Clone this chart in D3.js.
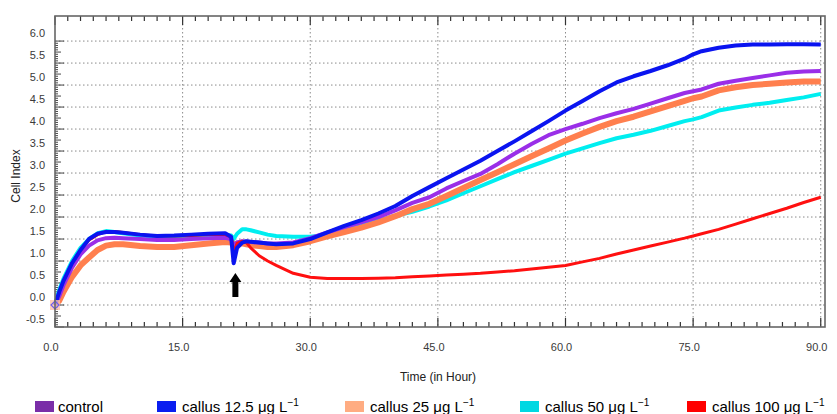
<!DOCTYPE html>
<html>
<head>
<meta charset="utf-8">
<script src="https://cdn.jsdelivr.net/npm/d3@7"></script>
<style>
	body { margin: 0; background: #fff; }
	svg { display: block; }
	.tick-label { font-family: 'Liberation Sans Narrow', 'Liberation Sans', Arial, sans-serif; font-size: 11px; fill: #3a3a3a; }
	.axis-title { font-family: 'Liberation Sans Narrow', 'Liberation Sans', Arial, sans-serif; font-size: 12px; fill: #222; }
	.legend-text { font-family: 'Liberation Sans', Arial, sans-serif; font-size: 15px; fill: #000; }
</style>
</head>
<body>
<script>
// time points (hours) shared by all series
var hours = [0, 0.5, 1, 2, 3, 4, 5, 6, 7, 8, 10, 12, 14, 16, 18, 20, 20.7, 21, 21.4, 22, 22.5, 23, 24, 25, 26, 28, 30, 32, 34, 36, 38, 40, 42, 44, 46, 48, 50, 52, 54, 56, 58, 60, 62, 64, 66, 68, 70, 72, 74, 75, 76, 78, 80, 82, 84, 86, 88, 90];

// cell index
var controlCI = [0, 0.2, 0.45, 0.85, 1.15, 1.35, 1.47, 1.52, 1.53, 1.52, 1.5, 1.48, 1.48, 1.5, 1.52, 1.53, 1.5, 1.35, 1.42, 1.45, 1.44, 1.43, 1.42, 1.4, 1.4, 1.42, 1.52, 1.65, 1.77, 1.88, 2.0, 2.15, 2.32, 2.45, 2.65, 2.82, 2.98, 3.2, 3.44, 3.66, 3.86, 4.0, 4.12, 4.25, 4.36, 4.46, 4.58, 4.7, 4.82, 4.86, 4.9, 5.03, 5.1, 5.16, 5.22, 5.28, 5.31, 5.32];
var callus12CI = [0, 0.3, 0.55, 0.95, 1.25, 1.5, 1.62, 1.66, 1.66, 1.64, 1.6, 1.57, 1.58, 1.6, 1.62, 1.63, 1.55, 0.95, 1.3, 1.42, 1.45, 1.44, 1.42, 1.4, 1.38, 1.4, 1.5, 1.65, 1.8, 1.93, 2.08, 2.25, 2.48, 2.68, 2.88, 3.08, 3.28, 3.5, 3.72, 3.95, 4.18, 4.42, 4.64, 4.86, 5.06, 5.2, 5.32, 5.45, 5.6, 5.7, 5.77, 5.85, 5.9, 5.92, 5.92, 5.93, 5.93, 5.92];
var callus25CI = [0, 0.1, 0.3, 0.64, 0.9, 1.08, 1.25, 1.35, 1.38, 1.38, 1.34, 1.32, 1.32, 1.36, 1.4, 1.43, 1.42, 1.38, 1.4, 1.4, 1.38, 1.36, 1.34, 1.32, 1.32, 1.36, 1.45, 1.56, 1.66, 1.76, 1.88, 2.02, 2.18, 2.3, 2.48, 2.66, 2.84, 3.02, 3.2, 3.38, 3.56, 3.74, 3.9, 4.05, 4.18, 4.28, 4.4, 4.52, 4.64, 4.7, 4.74, 4.88, 4.95, 5.0, 5.03, 5.06, 5.08, 5.08];
var callus50CI = [0, 0.35, 0.6, 1.0, 1.3, 1.5, 1.63, 1.68, 1.66, 1.63, 1.58, 1.55, 1.55, 1.57, 1.58, 1.6, 1.58, 1.5, 1.62, 1.72, 1.72, 1.7, 1.65, 1.6, 1.57, 1.55, 1.55, 1.6, 1.7, 1.8, 1.92, 2.03, 2.12, 2.24, 2.38, 2.54, 2.7, 2.86, 3.02, 3.16, 3.3, 3.44, 3.56, 3.68, 3.79, 3.87, 3.96, 4.07, 4.18, 4.22, 4.27, 4.42, 4.49, 4.55, 4.6, 4.66, 4.72, 4.8];
var callus100CI = [0, 0.3, 0.55, 0.95, 1.25, 1.48, 1.6, 1.67, 1.67, 1.65, 1.6, 1.57, 1.57, 1.58, 1.6, 1.6, 1.55, 1.2, 1.4, 1.45, 1.42, 1.3, 1.12, 1.0, 0.9, 0.72, 0.63, 0.6, 0.6, 0.6, 0.61, 0.62, 0.64, 0.66, 0.68, 0.7, 0.72, 0.75, 0.78, 0.82, 0.86, 0.9, 0.98, 1.06, 1.16, 1.25, 1.34, 1.43, 1.52, 1.57, 1.62, 1.72, 1.84, 1.96, 2.08, 2.2, 2.33, 2.45];

var xTicks = [0, 15, 30, 45, 60, 75, 90];
var yTicks = [-0.5, 0, 0.5, 1, 1.5, 2, 2.5, 3, 3.5, 4, 4.5, 5, 5.5, 6];
var legendNames = ['control', 'callus 12.5 \u03bcg L', 'callus 25 \u03bcg L', 'callus 50 \u03bcg L', 'callus 100 \u03bcg L'];
var treatmentHour = 21.2;

var width = 837;
var height = 414;
var plotLeft = 55, plotRight = 825, plotTop = 16, plotBottom = 327;

var lineColors = ['#9a2ee8', '#0a14f0', '#ff7f4e', '#00eef0', '#ff1010'];
var swatchColors = ['#7a2ea8', '#0a1ef0', '#ffac82', '#00d8e2', '#ff0000'];
var lineWidths = [4, 4, 6, 4, 3];
var seriesList = [controlCI, callus12CI, callus25CI, callus50CI, callus100CI];

var xScale = d3.scaleLinear().domain([0, 90.5]).range([plotLeft, plotRight]);
var yScale = d3.scaleLinear().domain([-0.5, 6.57]).range([plotBottom, plotTop]);

var canvas = d3.select('body')
				.append('svg')
				.attr('width', width)
				.attr('height', height);

// dotted grid
canvas.append('g')
		.selectAll('line')
		.data(yTicks.filter((d) => d >= 0))
		.enter()
		.append('line')
		.attr('x1', plotLeft)
		.attr('x2', plotRight)
		.attr('y1', (d) => yScale(d))
		.attr('y2', (d) => yScale(d))
		.style('stroke', '#8a8a8a')
		.style('stroke-width', 1)
		.style('stroke-dasharray', '1.5,2.5');
canvas.append('g')
		.selectAll('line')
		.data(xTicks.filter((d) => d > 0))
		.enter()
		.append('line')
		.attr('x1', (d) => xScale(d))
		.attr('x2', (d) => xScale(d))
		.attr('y1', plotTop)
		.attr('y2', plotBottom)
		.style('stroke', '#8a8a8a')
		.style('stroke-width', 1)
		.style('stroke-dasharray', '1.5,2.5');

// tick marks on the frame
var xMinor = d3.range(0, 91, 1.5);
var tickG = canvas.append('g').style('stroke', '#333').style('stroke-width', 1.2);
tickG.selectAll('.xt')
		.data(xMinor)
		.enter()
		.append('line')
		.attr('x1', (d) => xScale(d))
		.attr('x2', (d) => xScale(d))
		.attr('y1', plotTop)
		.attr('y2', (d) => plotTop + (d % 15 === 0 ? 9 : 5));
tickG.selectAll('.xb')
		.data(xMinor)
		.enter()
		.append('line')
		.attr('x1', (d) => xScale(d))
		.attr('x2', (d) => xScale(d))
		.attr('y1', plotBottom)
		.attr('y2', (d) => plotBottom - (d % 15 === 0 ? 9 : 5));
var yMinor = d3.range(-10, 121).map((i) => i * 0.05);
tickG.selectAll('.yt')
		.data(yMinor)
		.enter()
		.append('line')
		.attr('x1', plotLeft)
		.attr('x2', (d, i) => plotLeft + (i % 10 === 0 ? 9 : (i % 5 === 0 ? 6 : 3)))
		.attr('y1', (d) => yScale(d))
		.attr('y2', (d) => yScale(d))
		.style('stroke-width', 0.9);

// series lines
var line = d3.line()
			.x((d) => xScale(d[0]))
			.y((d) => yScale(d[1]));
var drawOrder = [3, 2, 0, 4, 1];
drawOrder.forEach(function(k) {
	var pts = hours.map((h, i) => [h, seriesList[k][i]]);
	canvas.append('path')
			.datum(pts)
			.attr('d', line)
			.attr('fill', 'none')
			.attr('stroke', lineColors[k])
			.attr('stroke-width', lineWidths[k])
			.attr('stroke-linejoin', 'round');
});

// start marker
var sx = xScale(hours[0]), sy = yScale(callus25CI[0]);
canvas.append('rect')
		.attr('x', sx - 5)
		.attr('y', sy - 5)
		.attr('width', 10)
		.attr('height', 10)
		.attr('fill', '#ffc0a8')
		.attr('opacity', 0.8);
canvas.append('path')
		.attr('d', 'M' + sx + ',' + (sy - 4) + 'L' + (sx + 4) + ',' + sy + 'L' + sx + ',' + (sy + 4) + 'L' + (sx - 4) + ',' + sy + 'Z')
		.attr('fill', 'none')
		.attr('stroke', '#6a5cf0')
		.attr('stroke-width', 1.2);

// treatment arrow
var ax = xScale(treatmentHour);
var aTip = yScale(0.73), aBase = yScale(0.18);
canvas.append('path')
		.attr('d', 'M' + ax + ',' + aTip + 'L' + (ax + 6) + ',' + (aTip + 9) + 'L' + (ax + 3) + ',' + (aTip + 9) + 'L' + (ax + 3) + ',' + aBase +
			'L' + (ax - 3) + ',' + aBase + 'L' + (ax - 3) + ',' + (aTip + 9) + 'L' + (ax - 6) + ',' + (aTip + 9) + 'Z')
		.attr('fill', '#000');

// frame
canvas.append('rect')
		.attr('x', plotLeft)
		.attr('y', plotTop)
		.attr('width', plotRight - plotLeft)
		.attr('height', plotBottom - plotTop)
		.attr('fill', 'none')
		.style('stroke', '#666')
		.style('stroke-width', 1.6);

// tick labels
canvas.append('g')
		.selectAll('text')
		.data(yTicks)
		.enter()
		.append('text')
		.attr('class', 'tick-label')
		.attr('x', plotLeft - 10)
		.attr('y', (d) => yScale(d) - 4)
		.attr('text-anchor', 'end')
		.text((d) => d.toFixed(1));
canvas.append('g')
		.selectAll('text')
		.data(xTicks)
		.enter()
		.append('text')
		.attr('class', 'tick-label')
		.attr('x', (d) => xScale(d) - 4)
		.attr('y', 351)
		.attr('text-anchor', 'middle')
		.text((d) => d.toFixed(1));

// axis titles
canvas.append('text')
		.attr('class', 'axis-title')
		.attr('x', 438)
		.attr('y', 381)
		.attr('text-anchor', 'middle')
		.text('Time (in Hour)');
canvas.append('text')
		.attr('class', 'axis-title')
		.attr('transform', 'translate(20,176) rotate(-90)')
		.attr('text-anchor', 'middle')
		.text('Cell Index');

// legend
var legendX = [35, 157, 345, 520, 687];
var legend = canvas.append('g')
				.selectAll('g')
				.data(legendNames)
				.enter()
				.append('g')
				.attr('transform', (d, i) => 'translate(' + legendX[i] + ',401)');
legend.append('rect')
		.attr('width', 19)
		.attr('height', 11)
		.attr('fill', (d, i) => swatchColors[i]);
var lt = legend.append('text')
		.attr('class', 'legend-text')
		.attr('x', (d, i) => i === 0 ? 23 : 25)
		.attr('y', 11);
lt.append('tspan').text((d) => d);
lt.filter((d, i) => i > 0)
	.append('tspan')
	.attr('dy', -6)
	.attr('font-size', 10)
	.text('\u22121');
</script>
</body>
</html>
